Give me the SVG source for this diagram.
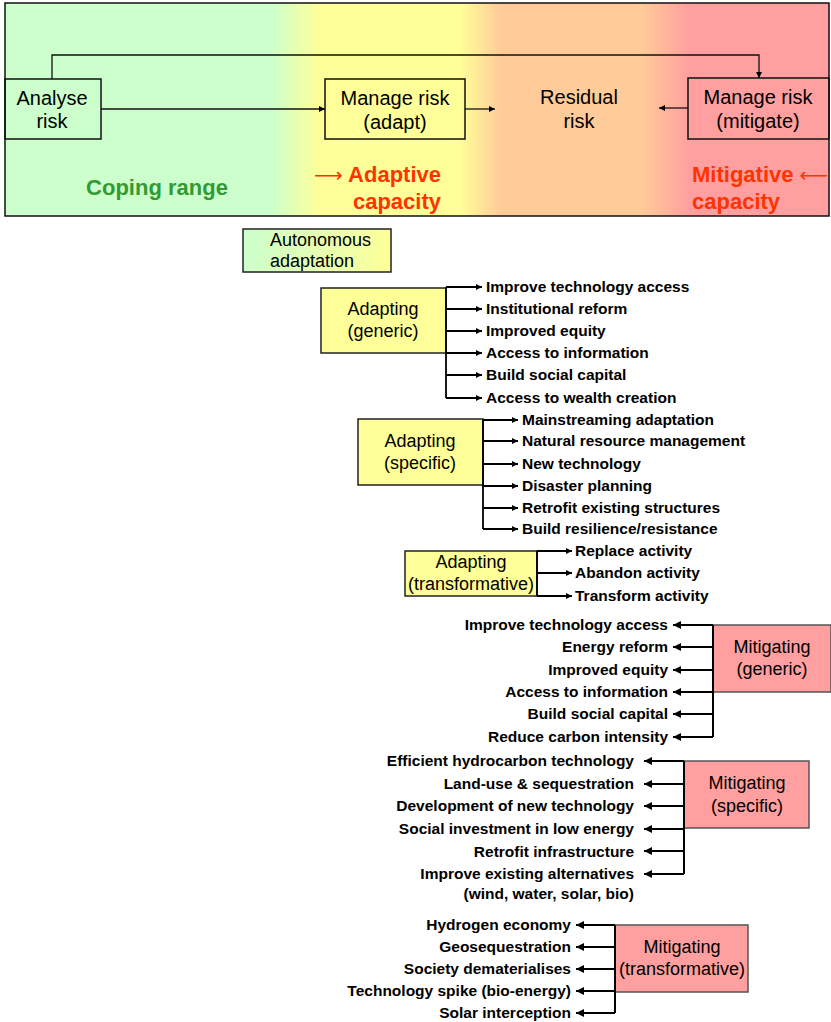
<svg xmlns="http://www.w3.org/2000/svg" width="831" height="1022" viewBox="0 0 831 1022">
<style>
text{font-family:"Liberation Sans",Arial,sans-serif;fill:#000}
.top{font-size:20px;text-anchor:middle}
.box{font-size:18px;text-anchor:middle}
.lbl{font-size:15.5px;font-weight:bold}
.lblr{font-size:15.5px;font-weight:bold;text-anchor:end}
.cap{font-size:22px;font-weight:bold;fill:#ff3300}
.arr{font-family:"DejaVu Sans",sans-serif;font-weight:normal;font-size:20px;fill:#ff3300}
.ad{fill:#ffff99;stroke:#222;stroke-width:1.5}
.mi{fill:#ff9f9f;stroke:#555;stroke-width:1.5}
.wt{fill:none;stroke:#111;stroke-width:1.5}
.ln{fill:none;stroke:#000;stroke-width:1.8}
.lm{fill:none;stroke:#000;stroke-width:2}
</style>
<defs>
<linearGradient id="band" gradientUnits="userSpaceOnUse" x1="5" y1="0" x2="829" y2="0">
<stop offset="0" stop-color="#ccffcc"/>
<stop offset="0.322" stop-color="#ccffcc"/>
<stop offset="0.382" stop-color="#ffff99"/>
<stop offset="0.552" stop-color="#ffff99"/>
<stop offset="0.601" stop-color="#ffcc99"/>
<stop offset="0.771" stop-color="#ffcc99"/>
<stop offset="0.831" stop-color="#ff9f9f"/>
<stop offset="1" stop-color="#ff9f9f"/>
</linearGradient>
<linearGradient id="auto" x1="0" y1="0" x2="1" y2="0">
<stop offset="0" stop-color="#ccffcc"/>
<stop offset="1" stop-color="#ffff99"/>
</linearGradient>
<marker id="as" markerUnits="userSpaceOnUse" markerWidth="7" markerHeight="6" refX="6" refY="3" orient="auto">
<path d="M0,0 L6,3 L0,6 z" fill="#000"/>
</marker>
<marker id="am" markerUnits="userSpaceOnUse" markerWidth="9" markerHeight="8" refX="8" refY="4" orient="auto">
<path d="M0,0 L8,4 L0,8 z" fill="#000"/>
</marker>
</defs>

<rect x="5" y="3" width="824" height="213" fill="url(#band)" stroke="#111" stroke-width="1.5"/>

<g id="analyse">
<rect x="5" y="79" width="96" height="60" class="wt"/>
<text class="top" x="52" y="105">Analyse</text>
<text class="top" x="52" y="128">risk</text>
</g>
<g id="manage-adapt">
<rect x="325" y="79" width="140" height="60" class="wt"/>
<text class="top" x="395" y="105">Manage risk</text>
<text class="top" x="395" y="129">(adapt)</text>
</g>
<g id="residual">
<text class="top" x="579" y="104">Residual</text>
<text class="top" x="579" y="128">risk</text>
</g>
<g id="manage-mitigate">
<rect x="688" y="78" width="141" height="61" class="wt"/>
<text class="top" x="758" y="104">Manage risk</text>
<text class="top" x="758" y="128">(mitigate)</text>
</g>
<g id="coping">
<text x="157" y="195" text-anchor="middle" style="font-size:22px;font-weight:bold;fill:#339933">Coping range</text>
</g>
<g id="adaptive-capacity">
<text class="cap" x="441" y="182" text-anchor="end"><tspan class="arr">⟶</tspan> Adaptive</text>
<text class="cap" x="441" y="209" text-anchor="end">capacity</text>
</g>
<g id="mitigative-capacity">
<text class="cap" x="692" y="182">Mitigative <tspan class="arr">⟵</tspan></text>
<text class="cap" x="692" y="209">capacity</text>
</g>

<g id="autonomous">
<rect x="243" y="229" width="148" height="43" fill="url(#auto)" stroke="#222" stroke-width="1.5"/>
<text class="box" x="270" y="246" style="text-anchor:start">Autonomous</text>
<text class="box" x="270" y="267" style="text-anchor:start">adaptation</text>
</g>

<g id="adapting-generic">
<rect x="321" y="288" width="125" height="65" class="ad"/>
<text class="box" x="383" y="315">Adapting</text>
<text class="box" x="383" y="337">(generic)</text>
</g>
<g id="adapting-generic-items">
<text class="lbl" x="486" y="292">Improve technology access</text>
<text class="lbl" x="486" y="314">Institutional reform</text>
<text class="lbl" x="486" y="336">Improved equity</text>
<text class="lbl" x="486" y="358">Access to information</text>
<text class="lbl" x="486" y="380">Build social capital</text>
<text class="lbl" x="486" y="403">Access to wealth creation</text>
</g>

<g id="adapting-specific">
<rect x="358" y="419" width="125" height="66" class="ad"/>
<text class="box" x="420" y="447">Adapting</text>
<text class="box" x="420" y="469">(specific)</text>
</g>
<g id="adapting-specific-items">
<text class="lbl" x="522" y="425">Mainstreaming adaptation</text>
<text class="lbl" x="522" y="446">Natural resource management</text>
<text class="lbl" x="522" y="469">New technology</text>
<text class="lbl" x="522" y="491">Disaster planning</text>
<text class="lbl" x="522" y="513">Retrofit existing structures</text>
<text class="lbl" x="522" y="534">Build resilience/resistance</text>
</g>

<g id="adapting-transformative">
<rect x="405" y="551" width="132" height="45" class="ad"/>
<text class="box" x="471" y="568">Adapting</text>
<text class="box" x="471" y="590">(transformative)</text>
</g>
<g id="adapting-transformative-items">
<text class="lbl" x="575" y="556">Replace activity</text>
<text class="lbl" x="575" y="578">Abandon activity</text>
<text class="lbl" x="575" y="601">Transform activity</text>
</g>

<g id="mitigating-generic">
<rect x="713" y="625" width="118" height="67" class="mi"/>
<text class="box" x="772" y="653">Mitigating</text>
<text class="box" x="772" y="675">(generic)</text>
</g>
<g id="mitigating-generic-items">
<text class="lblr" x="668" y="630">Improve technology access</text>
<text class="lblr" x="668" y="652">Energy reform</text>
<text class="lblr" x="668" y="675">Improved equity</text>
<text class="lblr" x="668" y="697">Access to information</text>
<text class="lblr" x="668" y="719">Build social capital</text>
<text class="lblr" x="668" y="742">Reduce carbon intensity</text>
</g>

<g id="mitigating-specific">
<rect x="684" y="761" width="125" height="67" class="mi"/>
<text class="box" x="747" y="789">Mitigating</text>
<text class="box" x="747" y="812">(specific)</text>
</g>
<g id="mitigating-specific-items">
<text class="lblr" x="634" y="766">Efficient hydrocarbon technology</text>
<text class="lblr" x="634" y="789">Land-use &amp; sequestration</text>
<text class="lblr" x="634" y="811">Development of new technology</text>
<text class="lblr" x="634" y="834">Social investment in low energy</text>
<text class="lblr" x="634" y="857">Retrofit infrastructure</text>
<text class="lblr" x="634" y="879">Improve existing alternatives</text>
<text class="lblr" x="634" y="899">(wind, water, solar, bio)</text>
</g>

<g id="mitigating-transformative">
<rect x="615" y="925" width="133" height="67" class="mi"/>
<text class="box" x="682" y="953">Mitigating</text>
<text class="box" x="682" y="975">(transformative)</text>
</g>
<g id="mitigating-transformative-items">
<text class="lblr" x="571" y="930">Hydrogen economy</text>
<text class="lblr" x="571" y="952">Geosequestration</text>
<text class="lblr" x="571" y="974">Society dematerialises</text>
<text class="lblr" x="571" y="996">Technology spike (bio-energy)</text>
<text class="lblr" x="571" y="1018">Solar interception</text>
</g>

<g id="connectors">
<path d="M52,79 V55 H759 V78" fill="none" stroke="#111" stroke-width="1.3" marker-end="url(#as)"/>
<path d="M101,109 H325" fill="none" stroke="#111" stroke-width="1.3" marker-end="url(#as)"/>
<path d="M465,109 H495" fill="none" stroke="#111" stroke-width="1.3" marker-end="url(#as)"/>
<path d="M688,108 H659" fill="none" stroke="#111" stroke-width="1.3" marker-end="url(#as)"/>

<path d="M446,287 V398" class="ln"/>
<path d="M446,287 H482" class="ln" marker-end="url(#as)"/>
<path d="M446,309 H482" class="ln" marker-end="url(#as)"/>
<path d="M446,331 H482" class="ln" marker-end="url(#as)"/>
<path d="M446,353 H482" class="ln" marker-end="url(#as)"/>
<path d="M446,375 H482" class="ln" marker-end="url(#as)"/>
<path d="M446,398 H482" class="ln" marker-end="url(#as)"/>

<path d="M483,420 V529" class="ln"/>
<path d="M483,420 H518" class="ln" marker-end="url(#as)"/>
<path d="M483,441 H518" class="ln" marker-end="url(#as)"/>
<path d="M483,464 H518" class="ln" marker-end="url(#as)"/>
<path d="M483,486 H518" class="ln" marker-end="url(#as)"/>
<path d="M483,508 H518" class="ln" marker-end="url(#as)"/>
<path d="M483,529 H518" class="ln" marker-end="url(#as)"/>

<path d="M537,551 V596" class="ln"/>
<path d="M537,551 H572" class="ln" marker-end="url(#as)"/>
<path d="M537,573 H572" class="ln" marker-end="url(#as)"/>
<path d="M537,596 H572" class="ln" marker-end="url(#as)"/>

<path d="M713,625 V737" class="lm"/>
<path d="M713,625 H673" class="lm" marker-end="url(#am)"/>
<path d="M713,647 H673" class="lm" marker-end="url(#am)"/>
<path d="M713,670 H673" class="lm" marker-end="url(#am)"/>
<path d="M713,692 H673" class="lm" marker-end="url(#am)"/>
<path d="M713,714 H673" class="lm" marker-end="url(#am)"/>
<path d="M713,737 H673" class="lm" marker-end="url(#am)"/>

<path d="M684,761 V874" class="lm"/>
<path d="M684,761 H644" class="lm" marker-end="url(#am)"/>
<path d="M684,784 H644" class="lm" marker-end="url(#am)"/>
<path d="M684,806 H644" class="lm" marker-end="url(#am)"/>
<path d="M684,829 H644" class="lm" marker-end="url(#am)"/>
<path d="M684,851 H644" class="lm" marker-end="url(#am)"/>
<path d="M684,874 H644" class="lm" marker-end="url(#am)"/>

<path d="M615,925 V1013" class="lm"/>
<path d="M615,925 H576" class="lm" marker-end="url(#am)"/>
<path d="M615,947 H576" class="lm" marker-end="url(#am)"/>
<path d="M615,969 H576" class="lm" marker-end="url(#am)"/>
<path d="M615,991 H576" class="lm" marker-end="url(#am)"/>
<path d="M615,1013 H576" class="lm" marker-end="url(#am)"/>
</g>
</svg>
